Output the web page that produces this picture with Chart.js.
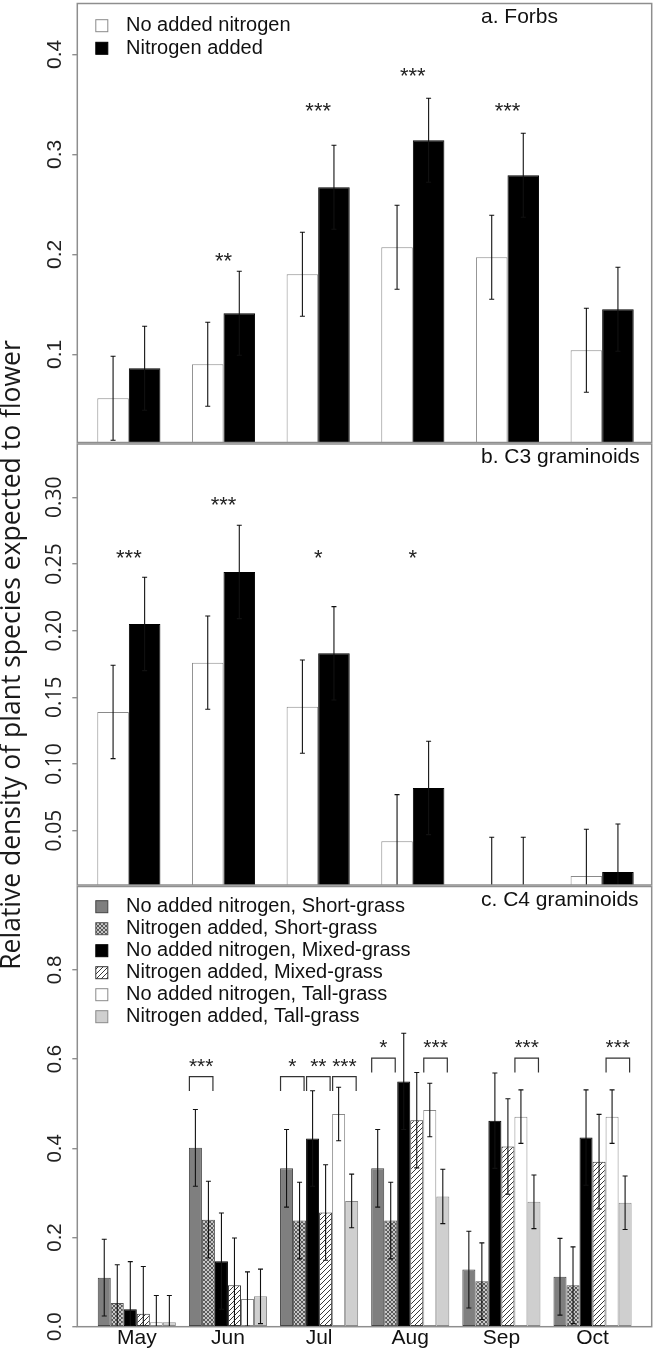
<!DOCTYPE html>
<html>
<head>
<meta charset="utf-8">
<script src="https://cdn.jsdelivr.net/npm/chart.js@4.4.1/dist/chart.umd.min.js"></script>
<style>
  html, body { margin: 0; padding: 0; background: #fff; }
  #figura { position: relative; width: 657px; height: 1351px; background: #fff; }
  #figura canvas { position: absolute; left: 0; top: 0; }
</style>
</head>
<body>
<div id="figura">
  <canvas id="panelA" width="657" height="1351"></canvas>
  <canvas id="panelB" width="657" height="1351"></canvas>
  <canvas id="panelC" width="657" height="1351"></canvas>
</div>
<script>
const meses = ['May', 'Jun', 'Jul', 'Aug', 'Sep', 'Oct'];
const tituloY = 'Relative density of plant species expected to flower';

// a. Forbs
const forbsSinN = [0.056, 0.090, 0.180, 0.207, 0.197, 0.104];
const forbsConN = [0.086, 0.141, 0.267, 0.314, 0.279, 0.145];
const forbsSinNErr = [0.042, 0.042, 0.042, 0.042, 0.042, 0.042];
const forbsConNErr = [0.042, 0.042, 0.042, 0.042, 0.042, 0.042];
const forbsSig = ['', '**', '***', '***', '***', ''];
const forbsSigY = [null, 0.199, 0.349, 0.384, 0.349, null];
const forbsTicks = [0.1, 0.2, 0.3, 0.4];
const forbsTickLabels = ['0.1', '0.2', '0.3', '0.4'];

// b. C3 graminoids
const c3SinN = [0.139, 0.176, 0.143, 0.042, 0.0, 0.016];
const c3ConN = [0.205, 0.244, 0.183, 0.082, 0.0, 0.019];
const c3SinNErr = [0.035, 0.035, 0.035, 0.035, 0.045, 0.035];
const c3ConNErr = [0.035, 0.035, 0.035, 0.035, 0.045, 0.036];
const c3Sig = ['***', '***', '*', '*', '', ''];
const c3SigY = [0.259, 0.2985, 0.259, 0.259, null, null];
const c3Ticks = [0.05, 0.10, 0.15, 0.20, 0.25, 0.30];
const c3TickLabels = ['0.05', '0.10', '0.15', '0.20', '0.25', '0.30'];

// c. C4 graminoids
const cortoSinN = [0.110, 0.401, 0.355, 0.355, 0.128, 0.112];
const cortoConN = [0.053, 0.240, 0.238, 0.238, 0.102, 0.093];
const mixtoSinN = [0.039, 0.147, 0.422, 0.550, 0.462, 0.424];
const mixtoConN = [0.029, 0.093, 0.256, 0.463, 0.404, 0.370];
const altoSinN = [0.010, 0.062, 0.477, 0.486, 0.471, 0.471];
const altoConN = [0.010, 0.068, 0.282, 0.292, 0.280, 0.278];
const cortoSinNErr = [0.086, 0.086, 0.087, 0.087, 0.086, 0.086];
const cortoConNErr = [0.086, 0.086, 0.086, 0.086, 0.086, 0.086];
const mixtoSinNErr = [0.107, 0.108, 0.107, 0.108, 0.107, 0.107];
const mixtoConNErr = [0.106, 0.106, 0.107, 0.107, 0.107, 0.106];
const altoSinNErr = [0.060, 0.061, 0.060, 0.060, 0.060, 0.060];
const altoConNErr = [0.060, 0.061, 0.060, 0.061, 0.060, 0.060];
// corchetes de significancia: mes, par de barras, texto, altura
const c4SigMes = [1, 2, 2, 2, 3, 3, 4, 5];
const c4SigPar = [0, 0, 1, 2, 0, 2, 2, 2];
const c4SigTexto = ['***', '*', '**', '***', '*', '***', '***', '***'];
const c4SigNivel = [0.5605, 0.5605, 0.5605, 0.5605, 0.602, 0.602, 0.602, 0.602];
const c4Ticks = [0.0, 0.2, 0.4, 0.6, 0.8];
const c4TickLabels = ['0.0', '0.2', '0.4', '0.6', '0.8'];

Chart.defaults.font.family = '"Liberation Sans", Arial, sans-serif';
Chart.defaults.color = '#222';

const GRIS_MARCO = '#8e8e8e';
const FUENTE = '"Liberation Sans", Arial, sans-serif';

// tramas para las barras
function tramaCruzada(ctx) {
  const t = document.createElement('canvas');
  t.width = 4; t.height = 4;
  const c = t.getContext('2d');
  c.fillStyle = '#c6c6c6';
  c.fillRect(0, 0, 4, 4);
  c.fillStyle = '#5a5a5a';
  for (let i = 0; i < 4; i++) {
    c.fillRect(i, i, 1, 1);
    c.fillRect(3 - i, i, 1, 1);
  }
  return ctx.createPattern(t, 'repeat');
}

function tramaDiagonal(ctx) {
  const t = document.createElement('canvas');
  t.width = 5; t.height = 5;
  const c = t.getContext('2d');
  c.fillStyle = '#fff';
  c.fillRect(0, 0, 5, 5);
  c.strokeStyle = '#222';
  c.lineWidth = 0.9;
  c.beginPath();
  c.moveTo(0, 5); c.lineTo(5, 0);
  c.moveTo(-1, 1); c.lineTo(1, -1);
  c.moveTo(4, 6); c.lineTo(6, 4);
  c.stroke();
  return ctx.createPattern(t, 'repeat');
}

function estrellas(ctx, txt, x, yc, size) {
  ctx.font = size + 'px ' + FUENTE;
  ctx.textAlign = 'center';
  ctx.textBaseline = 'alphabetic';
  ctx.fillStyle = '#222';
  ctx.fillText(txt, x, yc + size * 0.58);
}

function decoracion(cfg) {
  return {
    id: 'decoracion',
    afterDatasetsDraw(chart) {
      const { ctx, chartArea: a, scales: { x, y } } = chart;

      // barras de error
      ctx.save();
      ctx.beginPath();
      ctx.rect(a.left, a.top, a.right - a.left, a.bottom - a.top);
      ctx.clip();
      ctx.strokeStyle = '#111';
      ctx.lineWidth = 1.1;
      chart.data.datasets.forEach((ds, d) => {
        chart.getDatasetMeta(d).data.forEach((bar, i) => {
          const v = ds.data[i].y;
          const e = cfg.errores[d][i];
          const y1 = y.getPixelForValue(v + e);
          const y2 = y.getPixelForValue(v - e);
          ctx.beginPath();
          ctx.moveTo(bar.x, y1); ctx.lineTo(bar.x, y2);
          ctx.moveTo(bar.x - 2.5, y1); ctx.lineTo(bar.x + 2.5, y1);
          ctx.moveTo(bar.x - 2.5, y2); ctx.lineTo(bar.x + 2.5, y2);
          ctx.stroke();
        });
      });
      ctx.restore();

      ctx.save();
      // asteriscos sobre cada mes (paneles a y b)
      if (cfg.sig) {
        cfg.sig.forEach((s, i) => {
          if (!s) return;
          estrellas(ctx, s, x.getPixelForValue(i), y.getPixelForValue(cfg.sigY[i]), 22);
        });
      }
      // corchetes (panel c)
      if (cfg.corchetes) {
        const k = cfg.corchetes;
        ctx.strokeStyle = '#333';
        ctx.lineWidth = 1.2;
        k.mes.forEach((m, j) => {
          const b1 = chart.getDatasetMeta(2 * k.par[j]).data[m];
          const b2 = chart.getDatasetMeta(2 * k.par[j] + 1).data[m];
          const x1 = b1.x - b1.width / 2 + 0.5;
          const x2 = b2.x + b2.width / 2 - 2;
          const yTop = y.getPixelForValue(k.nivel[j]);
          const yPie = y.getPixelForValue(k.nivel[j] - 0.032);
          ctx.beginPath();
          ctx.moveTo(x1, yPie); ctx.lineTo(x1, yTop); ctx.lineTo(x2, yTop); ctx.lineTo(x2, yPie);
          ctx.stroke();
          estrellas(ctx, k.texto[j], (x1 + x2) / 2, y.getPixelForValue(k.nivel[j] + 0.036), 21);
        });
      }
      ctx.restore();
    },
    afterDraw(chart) {
      const { ctx, chartArea: a } = chart;
      ctx.save();
      // marco
      ctx.strokeStyle = GRIS_MARCO;
      ctx.lineWidth = 1.5;
      ctx.strokeRect(a.left, a.top, a.right - a.left, a.bottom - a.top);

      // titulo del panel
      ctx.fillStyle = '#111';
      ctx.font = '21px ' + FUENTE;
      ctx.textAlign = 'left';
      ctx.textBaseline = 'alphabetic';
      ctx.fillText(cfg.titulo, a.left + 403.7, a.top + 19);

      // leyenda
      if (cfg.leyenda) {
        ctx.font = '20px ' + FUENTE;
        ctx.textBaseline = 'middle';
        chart.data.datasets.forEach((ds, d) => {
          const yc = a.top + cfg.leyendaY + d * cfg.leyendaPaso;
          ctx.fillStyle = ds.backgroundColor;
          ctx.fillRect(a.left + 18.5, yc - 6, 12, 12);
          ctx.strokeStyle = ds.borderColor;
          ctx.lineWidth = 1;
          ctx.strokeRect(a.left + 18.5, yc - 6, 12, 12);
          ctx.fillStyle = '#111';
          ctx.fillText(ds.label, a.left + 48.7, yc);
        });
      }

      // titulo del eje y, compartido por los tres paneles
      if (cfg.tituloY) {
        ctx.translate(19.5, 655);
        ctx.rotate(-Math.PI / 2);
        ctx.font = '26.5px "Open Sans", sans-serif';
        ctx.textAlign = 'center';
        ctx.textBaseline = 'alphabetic';
        ctx.fillStyle = '#1a1a1a';
        ctx.fillText(cfg.tituloY, 0, 0);
      }
      ctx.restore();
    }
  };
}

function crearPanel(id, cfg) {
  const ctx = document.getElementById(id).getContext('2d');
  const datasets = cfg.series.map(s => ({
    label: s.label,
    data: s.valores.map((v, i) => ({ x: i, y: v })),
    backgroundColor: typeof s.relleno === 'function' ? s.relleno(ctx) : s.relleno,
    borderColor: s.borde,
    borderWidth: 1,
    borderSkipped: false,
    categoryPercentage: cfg.catPct,
    barPercentage: 1
  }));

  return new Chart(ctx, {
    type: 'bar',
    data: { datasets },
    options: {
      responsive: false,
      animation: false,
      devicePixelRatio: 1,
      events: [],
      layout: { padding: { top: cfg.arriba, bottom: cfg.abajo, left: 0, right: 5.3 } },
      plugins: { legend: { display: false }, tooltip: { enabled: false } },
      scales: {
        x: {
          type: 'linear',
          min: cfg.xMin,
          max: cfg.xMax,
          offset: false,
          bounds: 'data',
          display: cfg.conMeses,
          afterBuildTicks: s => { s.ticks = meses.map((m, i) => ({ value: i })); },
          afterFit: s => { if (cfg.conMeses) s.height = 24; },
          grid: { display: false },
          border: { display: false },
          ticks: {
            autoSkip: false,
            maxRotation: 0,
            padding: -9,
            color: '#111',
            font: { size: 21 },
            callback: (v, i) => meses[i]
          }
        },
        y: {
          min: cfg.yMin,
          max: cfg.yMax,
          bounds: 'data',
          afterBuildTicks: s => { s.ticks = cfg.ticks.map(v => ({ value: v })); },
          afterFit: s => { s.width = 77.3; s.paddingTop = 0; s.paddingBottom = 0; },
          grid: { drawOnChartArea: false, drawTicks: true, tickLength: 5, color: GRIS_MARCO, lineWidth: 1.4 },
          border: { display: false },
          ticks: {
            minRotation: 90,
            maxRotation: 90,
            crossAlign: 'center',
            padding: cfg.tickPad,
            color: '#222',
            font: cfg.tickFont,
            callback: (v, i) => cfg.tickLabels[i]
          }
        }
      }
    },
    plugins: [decoracion(cfg)]
  });
}

crearPanel('panelA', {
  titulo: 'a. Forbs',
  series: [
    { label: 'No added nitrogen', valores: forbsSinN, relleno: '#ffffff', borde: '#8a8a8a' },
    { label: 'Nitrogen added', valores: forbsConN, relleno: '#000000', borde: '#000000' }
  ],
  errores: [forbsSinNErr, forbsConNErr],
  sig: forbsSig, sigY: forbsSigY,
  ticks: forbsTicks, tickLabels: forbsTickLabels,
  tickFont: { size: 21, family: FUENTE }, tickPad: 3,
  yMin: 0.0118, yMax: 0.4508,
  xMin: -0.5446, xMax: 5.5234, catPct: 2 / 3,
  arriba: 3.5, abajo: 908.5, conMeses: false,
  leyenda: true, leyendaY: 22.2, leyendaPaso: 22.6
});

crearPanel('panelB', {
  titulo: 'b. C3 graminoids',
  series: [
    { label: 'No added nitrogen', valores: c3SinN, relleno: '#ffffff', borde: '#8a8a8a' },
    { label: 'Nitrogen added', valores: c3ConN, relleno: '#000000', borde: '#000000' }
  ],
  errores: [c3SinNErr, c3ConNErr],
  sig: c3Sig, sigY: c3SigY,
  ticks: c3Ticks, tickLabels: c3TickLabels,
  tickFont: { size: 21, family: '"Open Sans", sans-serif' }, tickPad: -3.5,
  yMin: 0.0092, yMax: 0.340,
  xMin: -0.5446, xMax: 5.5234, catPct: 2 / 3,
  arriba: 444, abajo: 466, conMeses: false,
  leyenda: false,
  tituloY: tituloY
});

crearPanel('panelC', {
  titulo: 'c. C4 graminoids',
  series: [
    { label: 'No added nitrogen, Short-grass', valores: cortoSinN, relleno: '#7f7f7f', borde: '#444444' },
    { label: 'Nitrogen added, Short-grass', valores: cortoConN, relleno: tramaCruzada, borde: '#555555' },
    { label: 'No added nitrogen, Mixed-grass', valores: mixtoSinN, relleno: '#000000', borde: '#000000' },
    { label: 'Nitrogen added, Mixed-grass', valores: mixtoConN, relleno: tramaDiagonal, borde: '#333333' },
    { label: 'No added nitrogen, Tall-grass', valores: altoSinN, relleno: '#ffffff', borde: '#8a8a8a' },
    { label: 'Nitrogen added, Tall-grass', valores: altoConN, relleno: '#cfcfcf', borde: '#8a8a8a' }
  ],
  errores: [cortoSinNErr, cortoConNErr, mixtoSinNErr, mixtoConNErr, altoSinNErr, altoConNErr],
  corchetes: { mes: c4SigMes, par: c4SigPar, texto: c4SigTexto, nivel: c4SigNivel },
  ticks: c4Ticks, tickLabels: c4TickLabels,
  tickFont: { size: 20.5, family: FUENTE }, tickPad: 3,
  yMin: 0, yMax: 0.987,
  xMin: -0.6528, xMax: 5.649, catPct: 6 / 7,
  arriba: 886.5, abajo: 0.3, conMeses: true,
  leyenda: true, leyendaY: 20.2, leyendaPaso: 22
});
</script>
</body>
</html>
